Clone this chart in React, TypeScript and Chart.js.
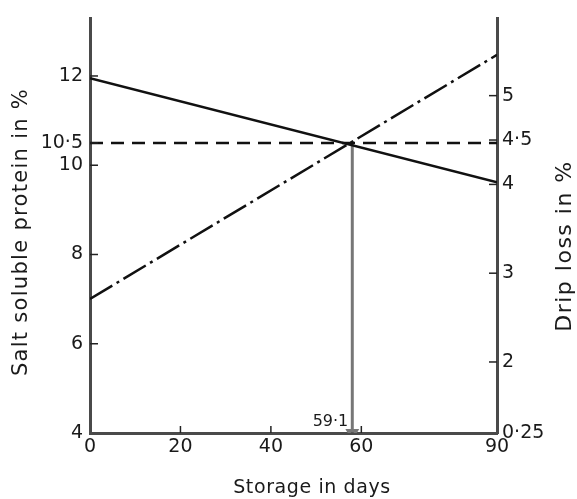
import React, { useEffect, useRef } from "react";
import { Chart, registerables } from "chart.js";
Chart.register(...registerables);

const days = [0, 90];
const protein = [11.95, 9.62];
const dripLoss = [2.71, 5.46];
const crossDay = 58;
const crossProtein = 10.5;
const crossLabel = "59·1";
const xTicks = [0, 20, 40, 60, 90];
const leftTicks = [4, 6, 8, 10, 10.5, 12];
const leftLabels = ["4", "6", "8", "10", "10·5", "12"];
const rightTicks = [1.2, 2, 3, 4, 4.5, 5];
const rightLabels = ["0·25", "2", "3", "4", "4·5", "5"];

const FONT = '"DejaVu Sans", sans-serif';
const INK = "#1a1a1a";
const AXIS = "#4a4a4a";

const decor = {
  id: "decor",
  afterDraw(chart: any) {
    const { ctx, chartArea, scales } = chart;
    const x = scales.x, y = scales.y, y2 = scales.y2;
    ctx.save();
    ctx.strokeStyle = "#222";
    ctx.lineWidth = 1.5;
    const line = (a: number, b: number, c: number, d: number) => {
      ctx.beginPath();
      ctx.moveTo(a, b);
      ctx.lineTo(c, d);
      ctx.stroke();
    };
    leftTicks.forEach((v) => {
      if (v === leftTicks[0]) return;
      const py = y.getPixelForValue(v);
      line(chartArea.left, py, chartArea.left + 8, py);
    });
    rightTicks.forEach((v) => {
      if (v === rightTicks[0]) return;
      const py = y2.getPixelForValue(v);
      line(chartArea.right - 8, py, chartArea.right, py);
    });
    xTicks.forEach((v) => {
      if (v === xTicks[0] || v === xTicks[xTicks.length - 1]) return;
      const px = x.getPixelForValue(v);
      line(px, chartArea.bottom, px, chartArea.bottom - 7);
    });
    ctx.fillStyle = INK;
    ctx.font = "16px " + FONT;
    ctx.textAlign = "right";
    ctx.textBaseline = "bottom";
    ctx.fillText(crossLabel, x.getPixelForValue(crossDay) - 4, chartArea.bottom - 3);

    ctx.textAlign = "center";
    ctx.textBaseline = "middle";
    ctx.font = "19px " + FONT;
    (ctx as any).letterSpacing = "0.6px";
    ctx.fillText("Storage in days", 312, 488);

    ctx.save();
    ctx.translate(22, 232);
    ctx.rotate(-Math.PI / 2);
    ctx.font = "21px " + FONT;
    (ctx as any).letterSpacing = "1.3px";
    ctx.fillText("Salt soluble protein in %", 0, 0);
    ctx.restore();

    ctx.save();
    ctx.translate(565, 246);
    ctx.rotate(-Math.PI / 2);
    ctx.font = "22px " + FONT;
    (ctx as any).letterSpacing = "1.5px";
    ctx.fillText("Drip loss in %", 0, 0);
    ctx.restore();
    (ctx as any).letterSpacing = "0px";
    ctx.restore();
  },
};

export default function App() {
  const ref = useRef<HTMLCanvasElement>(null);
  useEffect(() => {
    if (!ref.current) return;
    const tickFont = { family: FONT, size: 19 };
    const chart = new Chart(ref.current, {
      type: "line",
      data: {
        datasets: [
          {
            label: "protein",
            data: days.map((d, i) => ({ x: d, y: protein[i] })),
            yAxisID: "y",
            borderColor: "#111",
            borderWidth: 2.5,
            pointRadius: 0,
          },
          {
            label: "drip",
            data: days.map((d, i) => ({ x: d, y: dripLoss[i] })),
            yAxisID: "y2",
            borderColor: "#111",
            borderWidth: 2.5,
            borderDash: [26, 5, 3, 5],
            pointRadius: 0,
          },
          {
            label: "ref",
            data: days.map((d) => ({ x: d, y: crossProtein })),
            yAxisID: "y",
            borderColor: "#111",
            borderWidth: 2.5,
            borderDash: [13, 8],
            pointRadius: 0,
          },
          {
            label: "drop",
            data: [
              { x: crossDay, y: crossProtein },
              { x: crossDay, y: leftTicks[0] },
            ],
            yAxisID: "y",
            borderColor: "#777",
            backgroundColor: "#555",
            borderWidth: 3,
            pointRadius: [0, 5],
            pointStyle: "triangle",
            rotation: 180,
          },
        ],
      },
      options: {
        responsive: false,
        animation: false,
        layout: { padding: { top: 15, left: 0, right: 0, bottom: 0 } },
        plugins: { legend: { display: false }, tooltip: { enabled: false } },
        scales: {
          x: {
            type: "linear",
            min: 0,
            max: 90,
            afterBuildTicks: (s: any) => {
              s.ticks = xTicks.map((v) => ({ value: v }));
            },
            afterFit: (s: any) => {
              s.height = 66;
            },
            ticks: { font: tickFont, color: INK, padding: 3, autoSkip: false, maxRotation: 0 },
            grid: { display: false, drawTicks: false },
            border: { display: true, color: AXIS, width: 3 },
          },
          y: {
            type: "linear",
            position: "left",
            min: 4,
            max: 13.29,
            afterBuildTicks: (s: any) => {
              s.ticks = leftTicks.map((v) => ({ value: v }));
            },
            afterFit: (s: any) => {
              s.width = 90;
            },
            ticks: {
              font: tickFont,
              color: INK,
              padding: 7,
              autoSkip: false,
              callback: (v: any) => leftLabels[leftTicks.indexOf(v)] ?? "",
            },
            grid: { display: false, drawTicks: false },
            border: { display: true, color: AXIS, width: 3 },
          },
          y2: {
            type: "linear",
            position: "right",
            min: 1.2,
            max: 5.87,
            afterBuildTicks: (s: any) => {
              s.ticks = rightTicks.map((v) => ({ value: v }));
            },
            afterFit: (s: any) => {
              s.width = 80;
            },
            ticks: {
              font: tickFont,
              color: INK,
              padding: 5,
              autoSkip: false,
              callback: (v: any) => rightLabels[rightTicks.indexOf(v)] ?? "",
            },
            grid: { display: false, drawTicks: false },
            border: { display: true, color: AXIS, width: 3 },
          },
        },
      },
      plugins: [decor],
    } as any);
    return () => chart.destroy();
  }, []);
  return (
    <div style={{ position: "absolute", left: 0, top: 0, width: 577, height: 499, background: "#fff" }}>
      <canvas ref={ref} width={577} height={499} />
    </div>
  );
}
